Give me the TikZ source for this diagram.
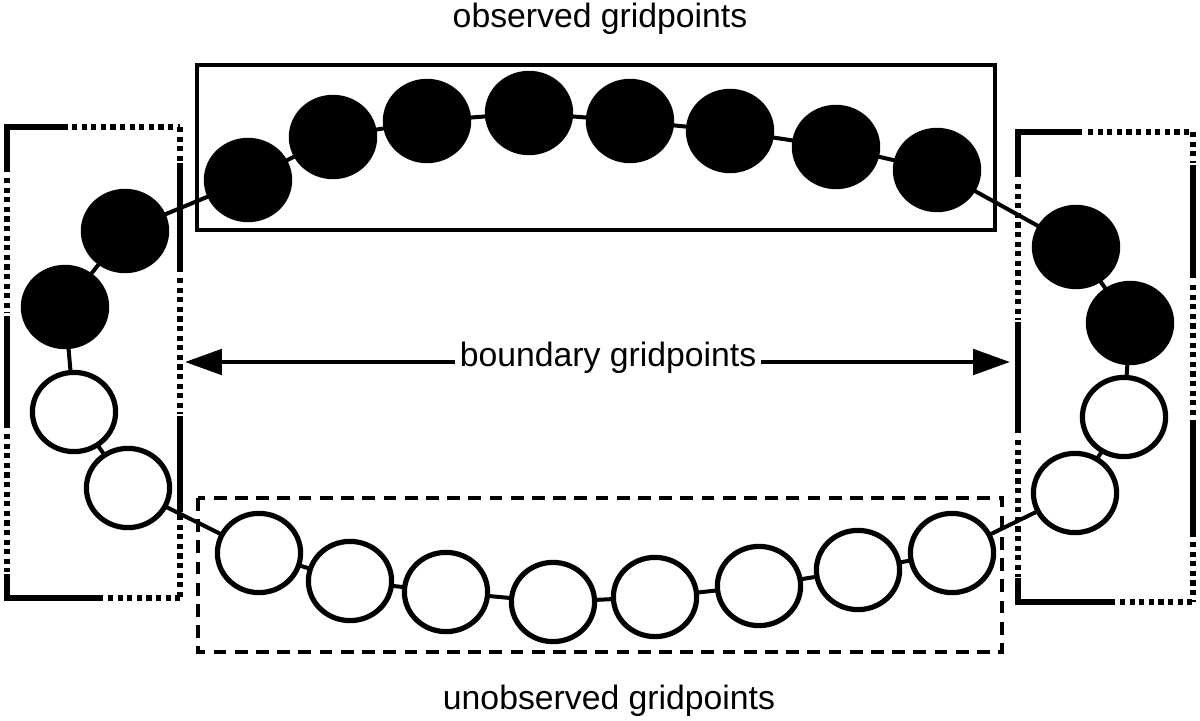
\documentclass[tikz,border=0pt]{standalone}
\usepackage{fontspec}
\setmainfont{Liberation Sans}
\usetikzlibrary{shapes.geometric,arrows.meta,backgrounds}
\tikzset{
  gp/.style={ellipse,draw=black,line width=0.13cm,minimum width=2.08cm,minimum height=1.98cm,inner sep=0pt},
  obs/.style={gp,fill=black},
  unobs/.style={gp,fill=white},
  link/.style={line width=0.1cm,black},
  solidseg/.style={line width=0.15cm,line cap=butt},
  dotseg/.style={line width=0.14cm,line cap=butt,dash pattern=on 0.13cm off 0.11cm},
  lbl/.style={font=\fontsize{24}{28}\selectfont,inner sep=0pt,anchor=base},
  arr/.style={line width=0.11cm,-{Triangle[length=0.92cm,width=0.63cm]}}
}
\begin{document}
\begin{tikzpicture}[x=0.025cm,y=-0.025cm]
\useasboundingbox (0,0) rectangle (1200,721);
% observed (top)
\node[obs] (C1) at (248,180) {};
\node[obs] (C2) at (333,137) {};
\node[obs] (C3) at (427,121) {};
\node[obs] (C4) at (529,113) {};
\node[obs] (C5) at (630,121) {};
\node[obs] (C6) at (730,131) {};
\node[obs] (C7) at (836,147) {};
\node[obs] (C8) at (937,170) {};
% left
\node[obs] (L1) at (125,231) {};
\node[obs] (L2) at (65,307) {};
\node[unobs] (L3) at (74,412) {};
\node[unobs] (L4) at (128,488) {};
% right
\node[obs] (R1) at (1076,247) {};
\node[obs] (R2) at (1130,323) {};
\node[unobs] (R3) at (1124,417) {};
\node[unobs] (R4) at (1075,493) {};
% bottom
\node[unobs] (B1) at (259,553) {};
\node[unobs] (B2) at (350,581) {};
\node[unobs] (B3) at (446,592) {};
\node[unobs] (B4) at (553,602) {};
\node[unobs] (B5) at (655,597) {};
\node[unobs] (B6) at (759,586) {};
\node[unobs] (B7) at (858,570) {};
\node[unobs] (B8) at (952,553) {};
\begin{scope}[on background layer]
\draw[link] (L2.center) -- (L1.center) -- (C1.center) -- (C2.center) -- (C3.center) -- (C4.center) -- (C5.center) -- (C6.center) -- (C7.center) -- (C8.center) -- (R1.center) -- (R2.center) -- (R3.center) -- (R4.center) -- (B8.center) -- (B7.center) -- (B6.center) -- (B5.center) -- (B4.center) -- (B3.center) -- (B2.center) -- (B1.center) -- (L4.center) -- (L3.center) -- (L2.center);
% observed box
\draw[line width=0.11cm] (197,65) rectangle (995,230);
% unobserved box
\draw[line width=0.12cm,dash pattern=on 0.32cm off 0.21cm] (198,498) rectangle (1002,652);
% left boundary box
\draw[solidseg] (7,127) -- (68,127);
\draw[dotseg] (72,127) -- (180,127);
\draw[dotseg] (180,127) -- (180,163);
\draw[solidseg] (180,163) -- (180,272);
\draw[dotseg] (180,278) -- (180,414);
\draw[solidseg] (180,416) -- (180,512);
\draw[dotseg] (180,515) -- (180,598);
\draw[solidseg] (7,598) -- (103,598);
\draw[dotseg] (108,598) -- (180,598);
\draw[solidseg] (7,124) -- (7,172);
\draw[dotseg] (7,178) -- (7,313);
\draw[solidseg] (7,316) -- (7,428);
\draw[dotseg] (7,434) -- (7,572);
\draw[solidseg] (7,574) -- (7,601);
% right boundary box
\draw[solidseg] (1018,132) -- (1082,132);
\draw[dotseg] (1088,132) -- (1193,132);
\draw[solidseg] (1018,129) -- (1018,177);
\draw[dotseg] (1018,184) -- (1018,320);
\draw[solidseg] (1018,322) -- (1018,433);
\draw[dotseg] (1018,440) -- (1018,577);
\draw[solidseg] (1018,578) -- (1018,605);
\draw[dotseg] (1193,132) -- (1193,163);
\draw[solidseg] (1193,165) -- (1193,278);
\draw[dotseg] (1193,285) -- (1193,418);
\draw[solidseg] (1193,420) -- (1193,537);
\draw[dotseg] (1193,542) -- (1193,602);
\draw[solidseg] (1018,602) -- (1115,602);
\draw[dotseg] (1120,602) -- (1193,602);
\end{scope}
% labels
\node[lbl] (obslbl) at (600,28) {observed gridpoints};
\node[lbl] (unobslbl) at (609,709) {unobserved gridpoints};
\node[font=\fontsize{24}{28}\selectfont,inner xsep=0.12cm,inner ysep=0pt] (bndlbl) at (608,358) {boundary gridpoints};
\coordinate (bl) at (185,362);
\coordinate (br) at (1010,362);
\draw[arr] (bndlbl.west |- bl) -- (bl);
\draw[arr] (bndlbl.east |- br) -- (br);
\end{tikzpicture}
\end{document}
